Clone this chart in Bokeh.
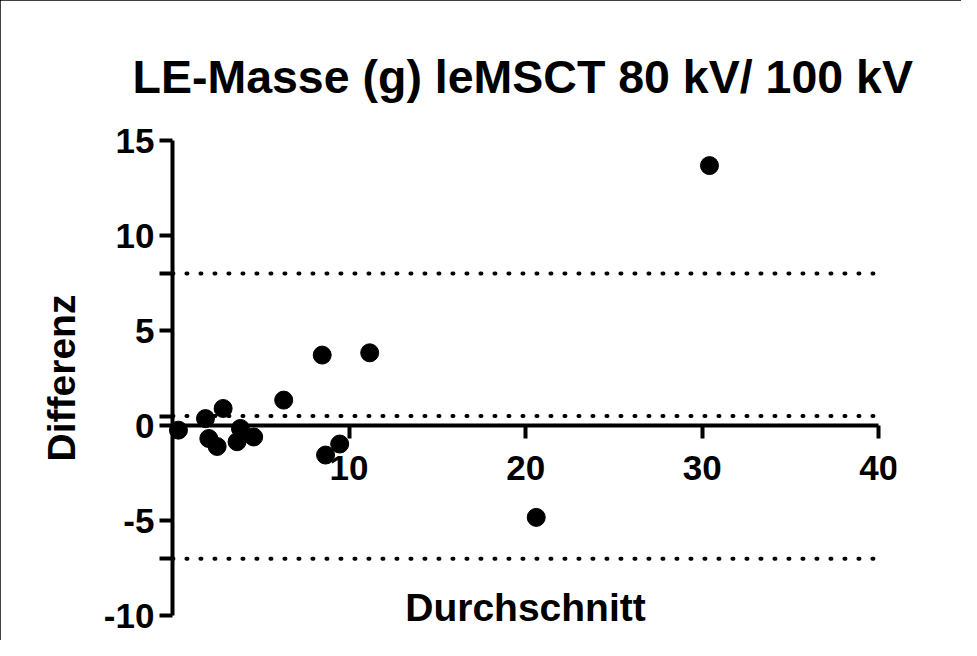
from bokeh.plotting import figure
from bokeh.models import Range1d, FixedTicker, ColumnDataSource
from bokeh.embed import file_html
from bokeh.resources import INLINE

# Bland-Altman data
durchschnitt = [0.34, 1.87, 2.06, 2.53, 2.87, 3.85, 3.66, 4.60, 6.30, 8.48, 8.67, 9.47, 11.17, 20.60, 30.41]
differenz = [-0.24, 0.37, -0.68, -1.10, 0.90, -0.15, -0.85, -0.60, 1.34, 3.71, -1.55, -0.97, 3.83, -4.83, 13.68]

bias = 0.5
upper_loa = 8.0
lower_loa = -7.0

x_ticks = [10, 20, 30, 40]
y_label_ticks = [-10, -5, 0, 5, 10, 15]
y_extra_ticks = [lower_loa, bias, upper_loa]

FONT = "Liberation Sans"

p = figure(width=961, height=640, output_backend="svg", toolbar_location=None,
           x_range=Range1d(-9, 41), y_range=Range1d(-11.15, 16),
           min_border_left=13, min_border_right=65,
           min_border_top=121, min_border_bottom=3)

p.title.text = "LE-Masse (g) leMSCT 80 kV/ 100 kV"
p.title.text_font = FONT
p.title.text_font_size = "46.5px"
p.title.text_font_style = "bold"
p.title.text_color = "black"
p.title.align = "left"
p.title.offset = 119
p.title.standoff = 37

p.grid.visible = False
p.outline_line_color = None
p.background_fill_color = "white"
p.border_fill_color = "white"
p.styles = {"outline": "2px solid black", "outline-offset": "-2px"}

# limit lines
lines_src = ColumnDataSource(dict(y=[upper_loa, bias, lower_loa],
                                  x0=[0, 0, 0], x1=[40, 40, 40]))
p.segment(x0="x0", x1="x1", y0="y", y1="y", source=lines_src,
          line_color="black", line_width=4, line_dash="1 13", line_cap="round")

pts = ColumnDataSource(dict(x=durchschnitt, y=differenz))
p.scatter("x", "y", source=pts, size=18, fill_color="black", line_color="black")

# axes crossing at 0
xa = p.xaxis[0]
xa.fixed_location = 0
xa.bounds = (0, 40)
xa.ticker = FixedTicker(ticks=x_ticks)
ya = p.yaxis[0]
ya.fixed_location = 0
ya.bounds = (-10, 15)
ya.ticker = FixedTicker(ticks=sorted(y_label_ticks + y_extra_ticks))
overrides = {t: str(t) for t in y_label_ticks}
overrides.update({t: "" for t in y_extra_ticks})
ya.major_label_overrides = overrides

for ax in (xa, ya):
    ax.axis_line_width = 4
    ax.axis_line_color = "black"
    ax.major_tick_line_width = 4
    ax.major_tick_line_color = "black"
    ax.major_tick_out = 13
    ax.major_tick_in = 0
    ax.minor_tick_line_color = None
    ax.major_label_text_font = FONT
    ax.major_label_text_font_style = "bold"
    ax.major_label_text_font_size = "35px"
    ax.major_label_text_color = "black"
    ax.axis_label_text_font = FONT
    ax.axis_label_text_font_style = "bold"
    ax.axis_label_text_font_size = "39px"
    ax.axis_label_text_color = "black"

xa.axis_label = "Durchschnitt"
xa.major_label_standoff = 17
xa.axis_label_standoff = 103
ya.axis_label = "Differenz"
ya.major_label_standoff = 5
ya.axis_label_standoff = 18

open("out.html", "w").write(file_html(p, INLINE))
